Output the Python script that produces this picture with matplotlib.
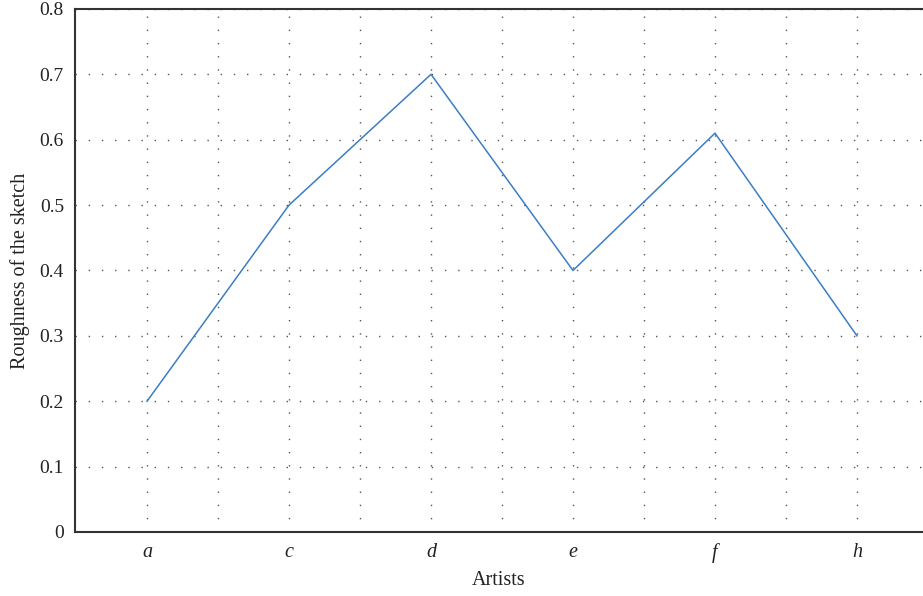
import matplotlib
matplotlib.use('Agg')
import matplotlib.pyplot as plt
import numpy as np
from matplotlib.ticker import MultipleLocator, FixedLocator

artists = ['a', 'c', 'd', 'e', 'f', 'h']
roughness = [0.2, 0.5, 0.7, 0.4, 0.61, 0.3]

plt.rcParams['font.family'] = ['Liberation Serif', 'DejaVu Serif']

fig = plt.figure(figsize=(9.23, 5.96), dpi=100)
ax = fig.add_axes([0.0813, 0.1074, 0.9187, 0.8776])

x = np.arange(len(artists))
ax.plot(x, roughness, color='#3b7dc6', linewidth=1.1)

# axes limits and ticks
ax.set_xlim(-0.507, 5.465)
ax.set_ylim(0, 0.8)
ax.set_xticks(x)
ax.set_xticklabels(artists, fontstyle='italic', fontsize=14.5)
ax.xaxis.set_minor_locator(FixedLocator(x[:-1] + 0.5))
ax.yaxis.set_major_locator(MultipleLocator(0.1))
ax.set_yticklabels(['0' if v == 0 else f'{v:.1f}' for v in ax.get_yticks()], fontsize=14)
ax.tick_params(which='both', length=0, pad=8, colors='#222222')

# dotted grid
grid_style = dict(color='#555555', linestyle=(0, (1, 8.5)), linewidth=1.0)
ax.grid(which='major', axis='y', **grid_style)
ax.grid(which='both', axis='x', **grid_style)

for side in ['top', 'left', 'bottom']:
    ax.spines[side].set_color('#333333')
    ax.spines[side].set_linewidth(1.5)
ax.spines['right'].set_visible(False)

ax.set_xlabel('Artists', fontsize=14.5, color='#222222', labelpad=6)
ax.set_ylabel('Roughness of the sketch', fontsize=14.5, color='#222222', labelpad=7)

fig.savefig('out.png', dpi=100)
